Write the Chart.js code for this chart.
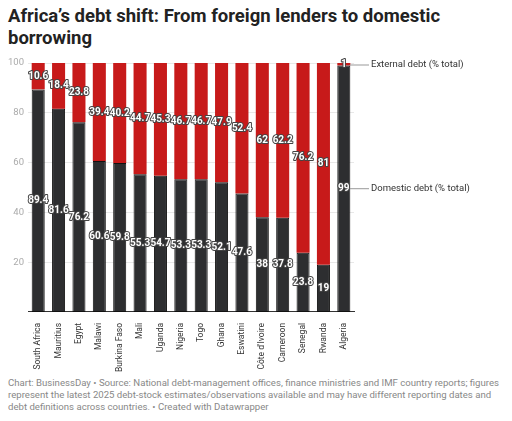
<!DOCTYPE html>
<html>
<head>
<meta charset="utf-8">
<script src="https://cdn.jsdelivr.net/npm/chart.js@4"></script>
<style>
  body { margin: 0; background: #fff; font-family: Roboto, sans-serif; }
  h1 { font-size: 18.5px; font-weight: 700; margin: 0; padding: 5px 8px 0 8px; line-height: 22px; color: #222; width: 470px; }
  #wrap { position: relative; width: 512px; height: 326px; }
  .foot { font-size: 9.6px; color: #888; padding: 0 8px; line-height: 12px; margin-top: 2px; }
</style>
</head>
<body>
<h1>Africa’s debt shift: From foreign lenders to domestic borrowing</h1>
<div id="wrap"><canvas id="chart"></canvas></div>
<div class="foot">Chart: BusinessDay • Source: National debt-management offices, finance ministries and IMF country reports; figures represent the latest 2025 debt-stock estimates/observations available and may have different reporting dates and debt definitions across countries. • Created with Datawrapper</div>
<script>
"use strict";
const countries = ["South Africa", "Mauritius", "Egypt", "Malawi", "Burkina Faso", "Mali", "Uganda", "Nigeria", "Togo", "Ghana", "Eswatini", "Côte d'Ivoire", "Cameroon", "Senegal", "Rwanda", "Algeria"];
const domestic = [89.4, 81.6, 76.2, 60.6, 59.8, 55.3, 54.7, 53.3, 53.3, 52.1, 47.6, 38, 37.8, 23.8, 19, 99];
const external = [10.6, 18.4, 23.8, 39.4, 40.2, 44.7, 45.3, 46.7, 46.7, 47.9, 52.4, 62, 62.2, 76.2, 81, 1];
const yTicks = [20, 40, 60, 80, 100];

// white labels with dark outline, centred in each segment
const segLabels = {
  id: "segLabels",
  afterDatasetsDraw(chart) {
    const ctx = chart.ctx;
    ctx.save();
    ctx.font = "bold 10px Roboto, sans-serif";
    ctx.textAlign = "center";
    ctx.textBaseline = "middle";
    ctx.lineJoin = "round";
    chart.data.datasets.forEach((ds, di) => {
      chart.getDatasetMeta(di).data.forEach((bar, i) => {
        const v = ds.data[i];
        const y = v < 3 ? bar.y + 1 : (bar.y + bar.base) / 2;
        ctx.lineWidth = 2;
        ctx.strokeStyle = "#444";
        ctx.strokeText(String(v), bar.x, y);
        ctx.fillStyle = "#fff";
        ctx.fillText(String(v), bar.x, y);
      });
    });
    // series annotations at the right
    const last = countries.length - 1;
    const area = chart.chartArea;
    const dBar = chart.getDatasetMeta(0).data[last];
    const eBar = chart.getDatasetMeta(1).data[last];
    const notes = [
      [eBar.y + 2, "External debt (% total)"],
      [(dBar.y + dBar.base) / 2, "Domestic debt (% total)"]
    ];
    ctx.font = "9.5px Roboto, sans-serif";
    ctx.textAlign = "left";
    notes.forEach(([y, txt]) => {
      ctx.strokeStyle = "#999";
      ctx.lineWidth = 1;
      ctx.beginPath();
      ctx.moveTo(dBar.x + 6, y);
      ctx.lineTo(area.right + 15, y);
      ctx.stroke();
      ctx.fillStyle = "#333";
      ctx.fillText(txt, area.right + 17, y);
    });
    ctx.restore();
  }
};

new Chart(document.getElementById("chart"), {
  type: "bar",
  data: {
    labels: countries,
    datasets: [
      { label: "Domestic debt (% total)", data: domestic, backgroundColor: "#2d2e30", borderColor: "#111", borderWidth: 1, borderSkipped: false },
      { label: "External debt (% total)", data: external, backgroundColor: "#c71a1a", borderWidth: 0 }
    ]
  },
  options: {
    responsive: true,
    maintainAspectRatio: false,
    animation: false,
    layout: { padding: { left: 4, right: 158, top: 14 } },
    plugins: { legend: { display: false }, tooltip: { enabled: false } },
    datasets: { bar: { categoryPercentage: 1, barPercentage: 0.64 } },
    scales: {
      x: {
        stacked: true,
        grid: { display: false },
        border: { color: "#333" },
        ticks: { maxRotation: 90, minRotation: 90, font: { size: 8.5, family: "Roboto" }, color: "#333" }
      },
      y: {
        stacked: true,
        min: 0, max: 100,
        afterBuildTicks(axis) { axis.ticks = yTicks.map(v => ({ value: v })); },
        grid: { color: "#e8e8e8", drawTicks: false },
        border: { display: false },
        ticks: { font: { size: 9.5, family: "Roboto" }, color: "#aaa", padding: 4 }
      }
    }
  },
  plugins: [segLabels]
});
</script>
</body>
</html>
